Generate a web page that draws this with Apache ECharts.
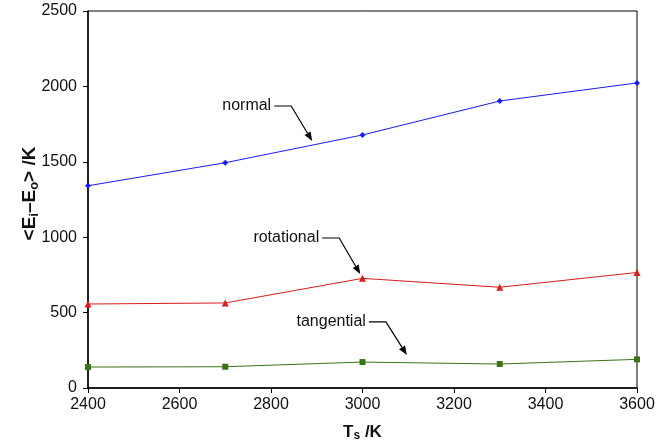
<!DOCTYPE html>
<html>
<head>
<meta charset="utf-8">
<script src="https://cdn.jsdelivr.net/npm/echarts@6/dist/echarts.min.js"></script>
<style>
  html, body { margin: 0; padding: 0; background: #fff; }
  #chart { width: 671px; height: 447px; }
</style>
</head>
<body>
<div id="chart"></div>
<script>
// Surface temperature (K)
const temps = [2400, 2700, 3000, 3300, 3600];
// Mean energy loss <Ei-Eo> (K) for each collision geometry
const normal = [1341, 1494, 1678, 1903, 2023];
const rotational = [557, 564, 727, 668, 766];
const tangential = [139, 141, 172, 159, 190];

const xTicks = [2400, 2600, 2800, 3000, 3200, 3400, 3600];
const yTicks = [0, 500, 1000, 1500, 2000, 2500];

// Callouts: label text and the point (data units) each arrow points at
const callouts = [
  { text: 'normal', at: [2890, 1638], dx: -37, dy: -35 },
  { text: 'rotational', at: [2995, 756], dx: -37, dy: -36 },
  { text: 'tangential', at: [3097, 219], dx: -37, dy: -33 }
];

const font = 'Arial, "Liberation Sans", Helvetica, sans-serif';
const chart = echarts.init(document.getElementById('chart'), null, { renderer: 'canvas' });

function series(name, data, color, symbol, size) {
  return {
    name, type: 'line',
    data: temps.map((t, i) => [t, data[i]]),
    symbol, symbolSize: size,
    lineStyle: { color, width: 1 },
    itemStyle: { color },
    animation: false
  };
}

const plain = v => String(v);

chart.setOption({
  backgroundColor: '#fff',
  grid: { left: 88, right: 34, top: 11, bottom: 59, show: true, borderColor: '#000', borderWidth: 1 },
  xAxis: {
    type: 'value', min: xTicks[0], max: xTicks[xTicks.length - 1], interval: 200,
    axisLine: { lineStyle: { color: '#000', width: 1.5 } },
    axisTick: { show: true, length: 5, lineStyle: { color: '#000' } },
    splitLine: { show: false },
    axisLabel: { color: '#111', fontSize: 16, fontFamily: font, margin: 9, formatter: plain },
    name: '{b|T}{s|s}{b| /K}', nameLocation: 'middle', nameGap: 34,
    nameTextStyle: {
      rich: {
        b: { fontSize: 17, fontWeight: 'bold', fontFamily: font, color: '#111' },
        s: { fontSize: 12, fontWeight: 'bold', fontFamily: font, color: '#111', verticalAlign: 'bottom', padding: [8, 0, 0, 0] }
      }
    }
  },
  yAxis: {
    type: 'value', min: yTicks[0], max: yTicks[yTicks.length - 1], interval: 500,
    axisLine: { lineStyle: { color: '#000', width: 1.5 } },
    axisTick: { show: true, length: 5, lineStyle: { color: '#000' } },
    splitLine: { show: false },
    axisLabel: { color: '#111', fontSize: 16, fontFamily: font, margin: 11, formatter: plain },
    name: '{b|<E}{s|i}{b|–E}{s|o}{b|> /K}', nameLocation: 'middle', nameGap: 47, nameRotate: 90,
    nameMoveOverlap: false,
    nameTextStyle: {
      padding: [0, 0, 0, 12],
      rich: {
        b: { fontSize: 19, fontWeight: 'bold', fontFamily: font, color: '#111' },
        s: { fontSize: 13, fontWeight: 'bold', fontFamily: font, color: '#111', verticalAlign: 'bottom', padding: [9, 0, 0, 0] }
      }
    }
  },
  series: [
    series('normal', normal, '#1a1aff', 'diamond', 6),
    series('rotational', rotational, '#d91c1c', 'triangle', 7),
    series('tangential', tangential, '#3a7316', 'rect', 6)
  ]
});

// Callout labels with bent arrows, anchored on data coordinates
const graphics = [];
callouts.forEach(c => {
  const tip = chart.convertToPixel({ gridIndex: 0 }, c.at);
  const elbow = [tip[0] + c.dx + 16, tip[1] + c.dy];
  const start = [elbow[0] - 17, elbow[1]];
  const vx = tip[0] - elbow[0], vy = tip[1] - elbow[1];
  const len = Math.hypot(vx, vy);
  const ux = vx / len, uy = vy / len;
  const hl = 9, hw = 3.5;
  const base = [tip[0] - ux * hl, tip[1] - uy * hl];
  const p1 = [base[0] - uy * hw, base[1] + ux * hw];
  const p2 = [base[0] + uy * hw, base[1] - ux * hw];
  graphics.push({
    type: 'polyline', silent: true,
    shape: { points: [start, elbow, base] },
    style: { stroke: '#000', lineWidth: 1.2, fill: null }
  });
  graphics.push({
    type: 'polygon', silent: true,
    shape: { points: [tip, p1, p2] },
    style: { fill: '#000' }
  });
  graphics.push({
    type: 'text', silent: true,
    x: start[0] - 3, y: start[1],
    style: { text: c.text, font: '16px ' + font, fill: '#111', align: 'right', verticalAlign: 'middle' }
  });
});
chart.setOption({ graphic: graphics });
</script>
</body>
</html>
